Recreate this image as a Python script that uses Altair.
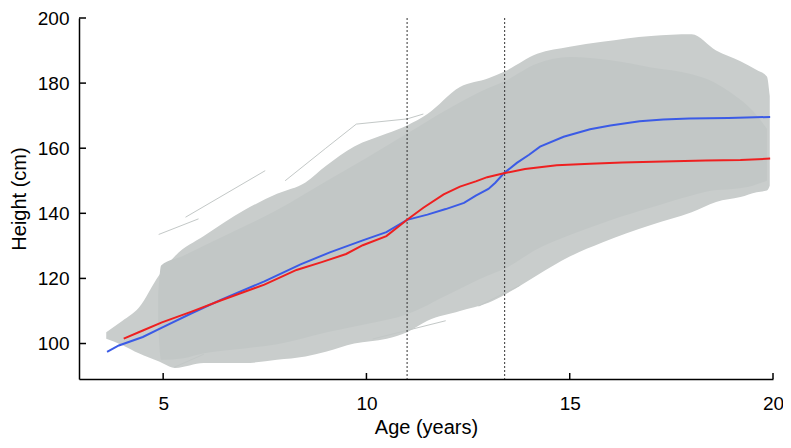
import altair as alt
import pandas as pd

# ---- data ----
# dense core of the individual growth curves
core_age = [4.88, 4.95, 5.5, 6.0, 7.0, 7.8, 9.0, 10.0, 11.0, 12.0, 13.0, 13.4, 14.2, 15.0,
            16.0, 17.0, 18.0, 18.5, 19.0, 19.5, 19.85]
core_low = [105, 95, 95.5, 97, 98.5, 99.8, 103.4, 106, 109, 115, 121, 123, 129, 133.3,
            137.9, 141.8, 145.5, 147, 147.5, 148.5, 150]
core_high = [115, 124, 127, 130, 136, 141, 149.8, 157, 164.5, 172, 178.5, 180.6, 186, 188,
             187, 184.8, 182.7, 180.6, 176.7, 171.5, 166]

# outer, sparser extent of the individual curves
outer_age = [3.6, 4.0, 4.4, 4.9, 5.3, 6.0, 7.0, 7.8, 8.5, 9.0, 9.7, 10.5, 11.0, 11.5, 12.3,
             13.0, 13.4, 14.2, 15.0, 15.8, 17.0, 18.0, 18.6, 19.2, 19.6, 19.85, 19.92]
outer_high = [103.5, 107, 111, 121, 127, 133, 141, 146, 149.5, 154.5, 160.5, 164.5, 167,
              170.5, 178.8, 181.5, 183.6, 189, 191.2, 192.7, 194.5, 195, 190, 186.7, 184,
              182, 176]
outer_low = [101.5, 99.5, 97, 94.5, 92.5, 94, 94, 95, 96, 97.5, 100, 101.5, 103.5, 107, 110,
             112.5, 115, 121, 126.7, 131, 136.4, 140.3, 143.5, 145, 146.5, 147, 148.5]

# a few isolated individual curves outside the band
stray_id = [1, 1, 2, 2, 3, 3, 3, 3, 3, 4, 4, 5, 5, 6, 6]
stray_age = [4.89, 5.87, 5.55, 7.51, 8.0, 9.0, 9.75, 11.0, 11.4, 12.76, 13.78, 10.16, 11.95,
             5.27, 6.0]
stray_h = [133.5, 138.3, 138.8, 153.1, 150, 160, 167.4, 169, 170.5, 111.5, 117.9, 101.4, 107,
           92.7, 96.7]

# mean curves
blue_age = [3.62, 3.91, 4.5, 4.97, 5.7, 6.43, 7.49, 8.38, 9.1, 9.91, 10.49, 11.0, 11.5, 11.95,
            12.4, 12.69, 13.0, 13.17, 13.38, 13.7, 14.0, 14.27, 14.85, 15.5, 16.0, 16.72, 17.3,
            17.94, 18.9, 19.93]
blue_h = [97.4, 99.4, 102, 104.9, 109.3, 113.5, 119.1, 124.3, 128.0, 131.7, 134.2, 138, 139.6,
          141.3, 143.2, 145.4, 147.5, 149.4, 152.3, 155.5, 158, 160.5, 163.5, 165.8, 167,
          168.3, 168.8, 169.1, 169.3, 169.6]
red_age = [4.03, 4.5, 4.97, 5.7, 6.43, 7.49, 8.28, 8.9, 9.5, 9.91, 10.49, 11.0, 11.4, 11.9,
           12.3, 12.69, 12.97, 13.38, 13.9, 14.68, 15.5, 16.3, 17.3, 18.35, 19.2, 19.93]
red_h = [101.5, 104, 106.5, 109.8, 113.3, 118.1, 122.6, 125.0, 127.5, 130.2, 133.0, 138, 141.7,
         145.8, 148.2, 149.8, 151.1, 152.3, 153.6, 154.8, 155.2, 155.6, 155.9, 156.2, 156.4,
         156.8]

ref_ages = [11.0, 13.4]
x_ticks = [5, 10, 15, 20]
y_ticks = [100, 120, 140, 160, 180, 200]

W, H = 694, 361
FONT = "Liberation Sans"

xs = alt.Scale(domain=[2.93, 20], nice=False, zero=False)
ys = alt.Scale(domain=[89.1, 200], nice=False, zero=False)

core = pd.DataFrame({"age": core_age, "lo": core_low, "hi": core_high})
outer = pd.DataFrame({"age": outer_age, "lo": outer_low, "hi": outer_high})
stray = pd.DataFrame({"id": stray_id, "age": stray_age, "h": stray_h})
blue = pd.DataFrame({"age": blue_age, "h": blue_h})
red = pd.DataFrame({"age": red_age, "h": red_h})
refs = pd.DataFrame({"age": ref_ages})
xt = pd.DataFrame({"v": x_ticks})
yt = pd.DataFrame({"v": y_ticks})

x_axis = alt.Axis(values=x_ticks, title="Age (years)", ticks=False, tickSize=0,
                  labelPadding=15, titlePadding=4, labelFlush=False)
y_axis = alt.Axis(values=y_ticks, title="Height (cm)", ticks=False, tickSize=0,
                  labelPadding=10, titlePadding=8, labelFlush=False)

outer_l = alt.Chart(outer).mark_area(color="#c9cdcc", interpolate="monotone").encode(
    x=alt.X("age:Q", scale=xs, axis=x_axis),
    y=alt.Y("lo:Q", scale=ys, axis=y_axis),
    y2="hi:Q",
)
core_l = alt.Chart(core).mark_area(color="#c2c7c6", interpolate="monotone").encode(
    x=alt.X("age:Q", scale=xs), y=alt.Y("lo:Q", scale=ys), y2="hi:Q"
)
stray_l = alt.Chart(stray).mark_line(color="#c3c8c7", strokeWidth=1).encode(
    x=alt.X("age:Q", scale=xs), y=alt.Y("h:Q", scale=ys), detail="id:N"
)
ref_l = alt.Chart(refs).mark_rule(color="#333333", strokeWidth=1, strokeDash=[2, 2]).encode(
    x=alt.X("age:Q", scale=xs)
)
blue_l = alt.Chart(blue).mark_line(color="#3b5be6", strokeWidth=2).encode(
    x=alt.X("age:Q", scale=xs), y=alt.Y("h:Q", scale=ys)
)
red_l = alt.Chart(red).mark_line(color="#ee2020", strokeWidth=2).encode(
    x=alt.X("age:Q", scale=xs), y=alt.Y("h:Q", scale=ys)
)
xtick_l = alt.Chart(xt).mark_rule(color="black", strokeWidth=1.5).encode(
    x=alt.X("v:Q", scale=xs), y=alt.value(H), y2=alt.value(H - 6)
)
ytick_l = alt.Chart(yt).mark_rule(color="black", strokeWidth=1.5).encode(
    y=alt.Y("v:Q", scale=ys), x=alt.value(0), x2=alt.value(7)
)

chart = alt.layer(outer_l, core_l, stray_l, ref_l, blue_l, red_l, xtick_l, ytick_l).properties(
    width=W, height=H,
    autosize=alt.AutoSizeParams(type="none"),
    padding={"left": 71, "top": 10, "right": 10, "bottom": 60},
).configure_view(stroke=None).configure_axis(
    grid=False, domainColor="black", domainWidth=1.5,
    labelFont=FONT, labelFontSize=19, labelColor="black",
    titleFont=FONT, titleFontSize=20, titleColor="black", titleFontWeight="normal",
)

chart.save("out.html", embed_options={"renderer": "svg", "actions": False})
